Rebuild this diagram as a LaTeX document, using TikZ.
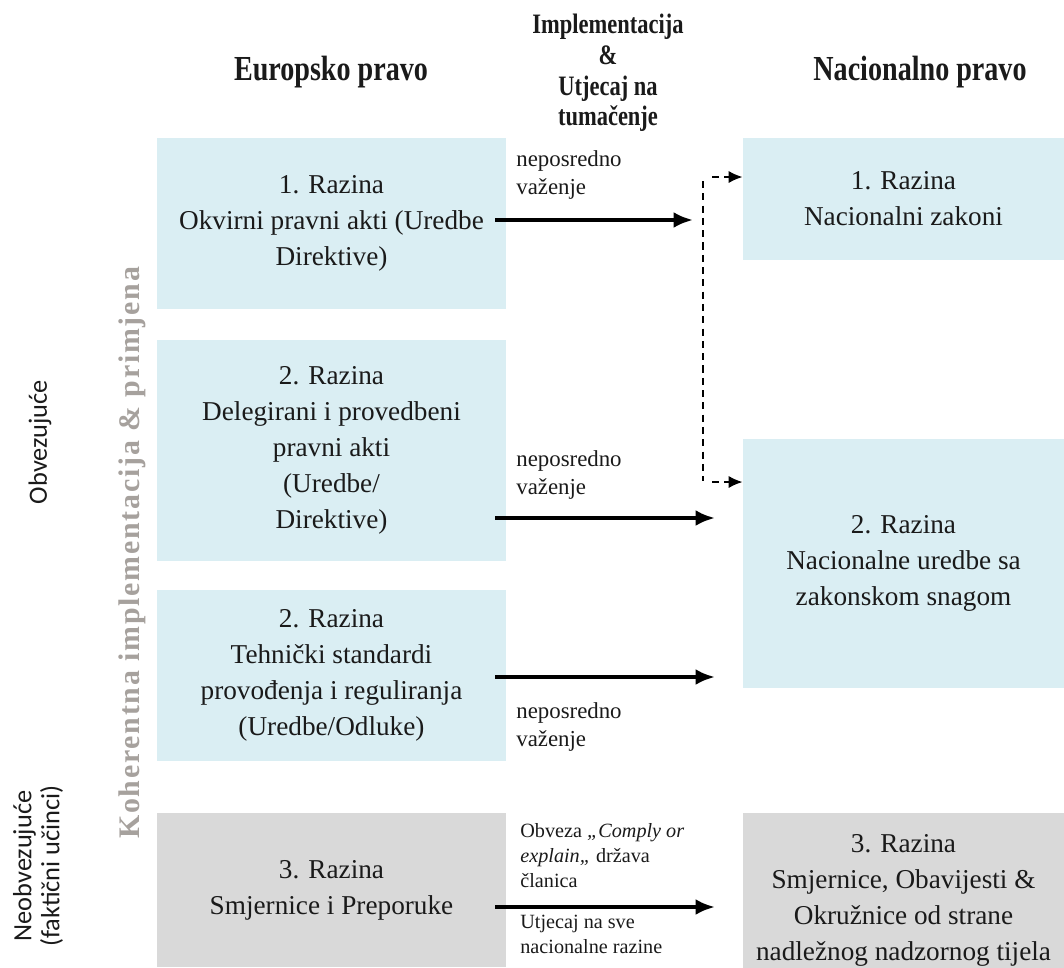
\documentclass[tikz,border=0pt]{standalone}
\usepackage{fontspec}
\setmainfont{Liberation Serif}
\newfontfamily\headfont{Liberation Serif}[FakeStretch=0.8]
\newfontfamily\sidefont{Carlito}
\newfontfamily\cohfont{Liberation Serif}[LetterSpace=6]
\usetikzlibrary{arrows.meta}
\definecolor{eublue}{HTML}{DAEEF3}
\definecolor{softgrey}{HTML}{D9D9D9}
\definecolor{inkgrey}{HTML}{A6A19D}
\definecolor{ink}{HTML}{1A1A1A}

\begin{document}
\begin{tikzpicture}[x=0.02cm,y=-0.02cm,>=Latex,text=ink,
  lvl/.style={fill=eublue,inner sep=0pt,align=center,font=\fontsize{15.5}{20.5}\selectfont},
  grey/.style={lvl,fill=softgrey},
  head/.style={font=\headfont\bfseries\fontsize{20}{24}\selectfont},
  note/.style={anchor=north west,align=left,inner sep=0pt,font=\fontsize{13}{16}\selectfont},
  small/.style={note,font=\fontsize{11.5}{14.2}\selectfont},
  flow/.style={-{Latex[length=11pt,width=9pt]},line width=2.5pt},
  hint/.style={dash pattern=on 4pt off 3pt,line width=1.2pt},
  hintarrow/.style={hint,-{Latex[length=8pt,width=7pt]}}]
\useasboundingbox (0,0) rectangle (1064,967);

\node[head] (eu) at (331,72) {Europsko pravo};
\node[head] (nat) at (920,72) {Nacionalno pravo};
\node[align=center,font=\headfont\bfseries\fontsize{16}{17.5}\selectfont] (impl) at (608,73) {Implementacija\\\&\\Utjecaj na\\tumačenje};

\node[lvl,minimum width=6.98cm,minimum height=3.42cm] (eu1) at (331.5,223.5) {1. Razina\\Okvirni pravni akti (Uredbe\\Direktive)};
\node[lvl,minimum width=6.98cm,minimum height=4.42cm] (eu2) at (331.5,450.5) {2. Razina\\Delegirani i provedbeni\\pravni akti\\(Uredbe/\\Direktive)};
\node[lvl,minimum width=6.98cm,minimum height=3.42cm] (eu3) at (331.5,675.5) {2. Razina\\Tehnički standardi\\provođenja i reguliranja\\(Uredbe/Odluke)};
\node[grey,minimum width=6.98cm,minimum height=3.08cm] (eu4) at (331.5,890) {3. Razina\\Smjernice i Preporuke};

\node[lvl,minimum width=6.42cm,minimum height=2.44cm] (nat1) at (903.5,199) {1. Razina\\Nacionalni zakoni};
\node[lvl,minimum width=6.42cm,minimum height=4.98cm] (nat2) at (903.5,563.5) {2. Razina\\Nacionalne uredbe sa\\zakonskom snagom};
\node[grey,minimum width=6.42cm,minimum height=3.5cm] (nat3) at (903.5,900) {3. Razina\\Smjernice, Obavijesti \&\\Okružnice od strane\\nadležnog nadzornog tijela};

\node[rotate=90,text=inkgrey,font=\cohfont\bfseries\fontsize{17}{20}\selectfont] (coh) at (132,553) {Koherentna implementacija \& primjena};
\node[rotate=90,font=\sidefont\fontsize{15}{17}\selectfont] (obv) at (40,442) {Obvezujuće};
\node[rotate=90,align=center,font=\sidefont\fontsize{15}{16}\selectfont] (neo) at (38,866) {Neobvezujuće\\(faktični učinci)};

\node[note] (val1) at (516,150) {neposredno\\važenje};
\node[note] (val2) at (516,450) {neposredno\\važenje};
\node[note] (val3) at (516,702) {neposredno\\važenje};
\node[small] (comply) at (520,823) {Obveza \textit{„Comply or}\\\textit{explain„} država\\članica};
\node[small] (all) at (520,915) {Utjecaj na sve\\nacionalne razine};

\coordinate (s1) at (495,220);
\coordinate (e1) at (693,220);
\coordinate (s2) at (495,518);
\coordinate (e2) at (715,518);
\coordinate (s3) at (495,677);
\coordinate (e3) at (715,677);
\coordinate (s4) at (495,907);
\coordinate (e4) at (715,907);
\draw[flow] (s1) -- (e1);
\draw[flow] (s2) -- (e2);
\draw[flow] (s3) -- (e3);
\draw[flow] (s4) -- (e4);

\coordinate (v1) at (703,181);
\coordinate (v2) at (703,481);
\coordinate (h1) at (712,177);
\coordinate (h2) at (712,482);
\draw[hint] (v1) -- (v2);
\draw[hintarrow] (h1) -- (nat1.west |- h1);
\draw[hintarrow] (h2) -- (nat2.west |- h2);
\end{tikzpicture}
\end{document}
